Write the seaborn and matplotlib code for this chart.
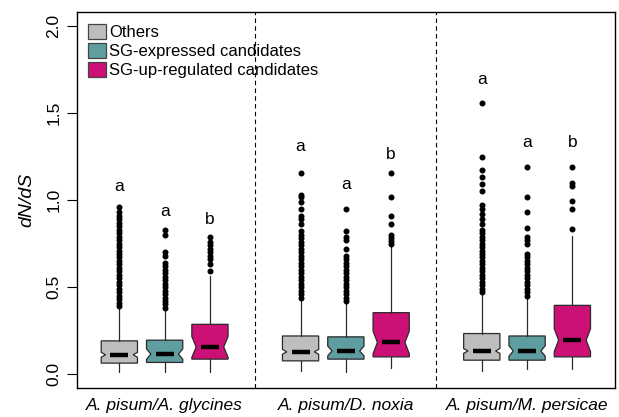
import matplotlib
matplotlib.use("Agg")
import matplotlib.pyplot as plt
import matplotlib.patches as mpatches
import numpy as np
import seaborn as sns

# comparisons and gene categories
comparisons = ["A. pisum/A. glycines", "A. pisum/D. noxia", "A. pisum/M. persicae"]
categories = ["Others", "SG-expressed candidates", "SG-up-regulated candidates"]

# box statistics, ordered comparison by comparison, category by category
q1 = [0.063, 0.067, 0.086, 0.076, 0.086, 0.099, 0.080, 0.080, 0.099]
median = [0.111, 0.115, 0.156, 0.128, 0.133, 0.182, 0.133, 0.133, 0.195]
q3 = [0.191, 0.195, 0.286, 0.219, 0.214, 0.353, 0.233, 0.219, 0.395]
whis_low = [0.010, 0.010, 0.013, 0.019, 0.013, 0.033, 0.019, 0.029, 0.029]
whis_high = [0.372, 0.363, 0.563, 0.420, 0.407, 0.735, 0.452, 0.430, 0.792]
notch_half = [0.014, 0.030, 0.060, 0.014, 0.028, 0.065, 0.014, 0.030, 0.065]

outliers = [
    [0.39, 0.41, 0.43, 0.45, 0.47, 0.49, 0.51, 0.53, 0.55, 0.57, 0.59, 0.61,
     0.63, 0.65, 0.67, 0.69, 0.71, 0.73, 0.75, 0.77, 0.79, 0.81, 0.83, 0.85,
     0.87, 0.89, 0.91, 0.93, 0.96],
    [0.38, 0.40, 0.42, 0.44, 0.46, 0.48, 0.50, 0.52, 0.54, 0.56, 0.58, 0.60,
     0.62, 0.64, 0.68, 0.70, 0.80, 0.83],
    [0.59, 0.63, 0.66, 0.68, 0.70, 0.72, 0.74, 0.76, 0.79],
    [0.44, 0.46, 0.48, 0.50, 0.52, 0.54, 0.56, 0.58, 0.60, 0.62, 0.64, 0.66,
     0.68, 0.70, 0.72, 0.74, 0.76, 0.78, 0.80, 0.82, 0.86, 0.89, 0.91, 0.95,
     0.99, 1.02, 1.03, 1.155],
    [0.42, 0.44, 0.46, 0.48, 0.50, 0.52, 0.54, 0.56, 0.58, 0.60, 0.62, 0.64,
     0.66, 0.68, 0.72, 0.77, 0.79, 0.82, 0.95],
    [0.745, 0.765, 0.783, 0.80, 0.86, 0.907, 1.02, 1.155],
    [0.47, 0.49, 0.51, 0.53, 0.55, 0.57, 0.59, 0.61, 0.63, 0.65, 0.67, 0.69,
     0.71, 0.73, 0.75, 0.77, 0.79, 0.81, 0.83, 0.86, 0.89, 0.92, 0.95, 0.97,
     1.05, 1.09, 1.13, 1.17, 1.25, 1.56],
    [0.45, 0.47, 0.49, 0.51, 0.53, 0.55, 0.57, 0.59, 0.61, 0.63, 0.65, 0.67,
     0.69, 0.75, 0.77, 0.79, 0.84, 0.93, 1.02, 1.19],
    [0.836, 0.95, 0.997, 1.08, 1.10, 1.19],
]

letters = ["a", "a", "b", "a", "a", "b", "a", "a", "b"]
letter_y = [1.08, 0.935, 0.89, 1.31, 1.09, 1.26, 1.69, 1.33, 1.33]

sns.set_style("white")
plt.rcParams["font.family"] = ["Liberation Sans", "DejaVu Sans"]
plt.rcParams.update({"text.color": "black", "axes.labelcolor": "black",
                     "xtick.color": "black", "ytick.color": "black"})
palette = sns.color_palette(["#BEBEBE", "#5F9EA0", "#CD1076"])

fig = plt.figure(figsize=(6.19, 4.17), dpi=100)
ax = fig.add_axes([0.124, 0.0695, 0.8695, 0.9015])

n_cat = len(categories)
box_width = 0.8
positions = []
stats = []
for i in range(len(comparisons) * n_cat):
    g, c = divmod(i, n_cat)
    positions.append(g * (n_cat + 1) + c + 1)
    stats.append({
        "q1": q1[i], "med": median[i], "q3": q3[i],
        "whislo": whis_low[i], "whishi": whis_high[i],
        "cilo": median[i] - notch_half[i], "cihi": median[i] + notch_half[i],
        "fliers": outliers[i],
    })

bp = ax.bxp(
    stats, positions=positions, widths=box_width, shownotches=True,
    patch_artist=True, showcaps=False,
    boxprops=dict(edgecolor="#2a2a2a", linewidth=0.9),
    whiskerprops=dict(color="#2a2a2a", linewidth=0.9),
    medianprops=dict(color="black", linewidth=3.2, solid_capstyle="butt"),
    flierprops=dict(marker="o", markerfacecolor="black", markeredgecolor="black",
                    markersize=3.3, linestyle="none"),
)
# R-style notches are shallower than matplotlib's
for i, box in enumerate(bp["boxes"]):
    box.set_facecolor(palette[i % n_cat])
    verts = box.get_path().vertices
    at_med = np.isclose(verts[:, 1], median[i])
    side = np.sign(verts[at_med, 0] - positions[i])
    verts[at_med, 0] = positions[i] + side * box_width * 0.38

for pos, lab, y in zip(positions, letters, letter_y):
    ax.text(pos, y, lab, ha="center", va="center", fontsize=12.5)

for g in range(1, len(comparisons)):
    ax.axvline(g * (n_cat + 1), color="black", linestyle=(0, (4, 3)), linewidth=0.8)

ax.set_xlim(0.06, 11.94)
ax.set_ylim(-0.08, 2.08)
ax.set_xticks([g * (n_cat + 1) + 2 for g in range(len(comparisons))])
ax.set_xticklabels(comparisons, fontsize=12.5, style="italic")
ax.tick_params(axis="x", length=0, pad=7)
ax.set_yticks([0.0, 0.5, 1.0, 1.5, 2.0])
ax.set_yticklabels(["0.0", "0.5", "1.0", "1.5", "2.0"], rotation=90,
                   va="center", fontsize=12.5)
ax.tick_params(axis="y", length=7, width=0.8, pad=4, left=True, color="black")
ax.set_ylabel("dN/dS", fontsize=14, style="italic", labelpad=8)
for sp in ax.spines.values():
    sp.set_color("black")
    sp.set_linewidth(1.0)

handles = [mpatches.Patch(facecolor=palette[k], edgecolor="#444444", linewidth=0.9)
           for k in range(n_cat)]
ax.legend(handles, categories, loc="upper left", frameon=False, fontsize=12,
          handlelength=1.05, handleheight=1.05, handletextpad=0.2,
          labelspacing=0.15, borderaxespad=0.5, borderpad=0.2)

fig.savefig("out.png", dpi=100)
